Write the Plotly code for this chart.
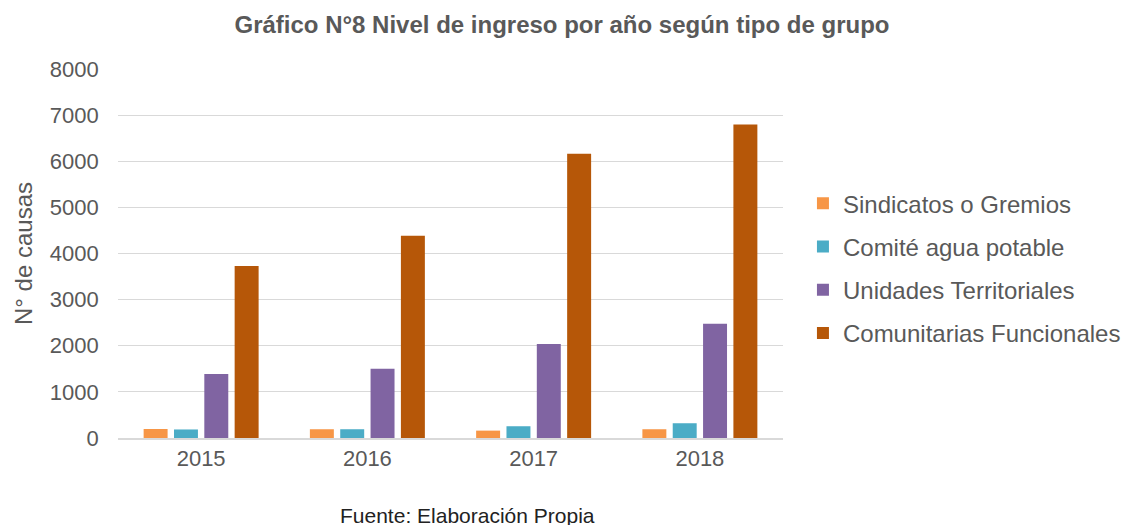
import plotly.graph_objects as go

years = ["2015", "2016", "2017", "2018"]
series_names = ["Sindicatos o Gremios", "Comité agua potable", "Unidades Territoriales", "Comunitarias Funcionales"]
sindicatos = [195, 190, 160, 190]
comite = [185, 190, 255, 320]
unidades = [1390, 1500, 2040, 2475]
comunitarias = [3730, 4385, 6160, 6795]
colors = ["#F79646", "#4BACC6", "#8064A2", "#B65708"]

fig = go.Figure()
for i, (name, vals) in enumerate(zip(series_names, [sindicatos, comite, unidades, comunitarias])):
    fig.add_trace(go.Bar(x=years, y=vals, name=name, marker_color=colors[i],
                         marker_line_width=0, legendgroup=f"g{i}"))

font = "Liberation Sans, Arial, sans-serif"
fig.update_layout(
    width=1132, height=525,
    paper_bgcolor="white", plot_bgcolor="white",
    margin=dict(l=110, r=357, t=61, b=95),
    barmode="group", bargap=0.27, bargroupgap=0.21,
    font=dict(family=font, color="#595959", size=22),
    title=dict(text="<b>Gráfico N°8 Nivel de ingreso por año según tipo de grupo</b>",
               x=0.4894, xanchor="center", y=0.968, yanchor="middle",
               font=dict(size=24, color="#595959", family=font)),
    legend=dict(x=1.03, xanchor="left", y=0.46, yanchor="middle",
                font=dict(size=24, color="#595959", family=font),
                tracegroupgap=9, itemwidth=30),
    showlegend=True,
    xaxis=dict(showline=True, linecolor="#d9d9d9", linewidth=1.5, ticks="",
               tickfont=dict(size=22, color="#595959")),
    yaxis=dict(range=[0, 8000], dtick=1000, showgrid=True, gridcolor="#d9d9d9",
               gridwidth=1, zeroline=False, tickfont=dict(size=22, color="#595959"),
               title=dict(text="N° de causas", font=dict(size=24, color="#595959"), standoff=10),
               ticksuffix="   "),
)
fig.add_annotation(text="Fuente: Elaboración Propia", xref="paper", yref="paper",
                   x=0.526, y=-0.209, xanchor="center", yanchor="middle", showarrow=False,
                   font=dict(size=21, color="#222222", family=font))
fig.write_html("out.html")
